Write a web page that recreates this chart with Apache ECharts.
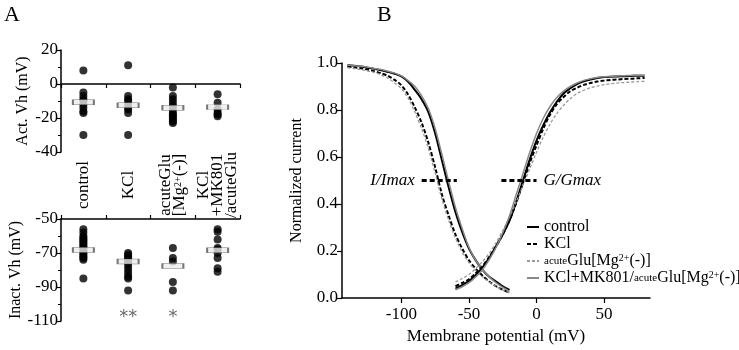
<!DOCTYPE html>
<html>
<head>
<meta charset="utf-8">
<script src="https://cdn.jsdelivr.net/npm/echarts@6/dist/echarts.min.js"></script>
<style>
  html, body { margin: 0; padding: 0; background: #fff; }
  #chart { width: 739px; height: 350px; }
</style>
</head>
<body>
<div id="chart"></div>
<script>
// panel A categories
const groups = ['control', 'KCl', 'acuteGlu\n[Mg2+(-)]', 'KCl\n+MK801\n/acuteGlu'];

// panel A, activation Vh (mV), one array per group
const actControl = [8, -5, -7, -9, -10, -12, -14, -16, -17, -30];
const actKCl = [11, -7, -9, -10, -12, -14, -15, -17, -30];
const actAcuteGlu = [-2, -7, -9, -11, -13, -15, -17, -18, -19, -20, -21, -22, -23];
const actKClMK = [-6, -11, -15, -17, -18, -19];
const actMeans = [-10.7, -12.5, -14, -13.6];

// panel A, inactivation Vh (mV)
const inaControl = [-56, -58, -60, -61, -62, -63, -64, -65, -66, -67, -68, -69, -70, -71, -72, -73, -74, -85];
const inaKCl = [-70, -71, -72, -73, -74, -75, -76, -78, -80, -82, -84, -85, -92];
const inaAcuteGlu = [-67, -73, -75, -87, -92];
const inaKClMK = [-56, -57.5, -62, -67, -68, -70, -73, -79, -81];
const inaMeans = [-68.2, -75, -77.6, -68.4];
const stars = ['', '**', '*', ''];

// panel B, fitted curves (5 mV steps)
const inaV = [-140, -135, -130, -125, -120, -115, -110, -105, -100, -95, -90, -85, -80,
  -75, -70, -65, -60, -55, -50, -45, -40, -35, -30, -25, -20];
const inaCtl = [0.99, 0.988, 0.985, 0.98, 0.975, 0.969, 0.962, 0.954, 0.943, 0.92, 0.885, 0.845, 0.79,
  0.70, 0.585, 0.47, 0.365, 0.28, 0.21, 0.16, 0.12, 0.09, 0.07, 0.05, 0.035];
const inaK = [0.985, 0.982, 0.978, 0.972, 0.965, 0.956, 0.945, 0.928, 0.905, 0.865, 0.81, 0.745, 0.66,
  0.555, 0.44, 0.35, 0.27, 0.21, 0.16, 0.125, 0.095, 0.07, 0.05, 0.035, 0.022];
const inaGlu = [0.98, 0.976, 0.972, 0.966, 0.96, 0.949, 0.935, 0.915, 0.89, 0.85, 0.79, 0.72, 0.635,
  0.53, 0.42, 0.33, 0.255, 0.195, 0.15, 0.117, 0.09, 0.068, 0.05, 0.034, 0.022];
const inaMK = [0.99, 0.988, 0.986, 0.982, 0.977, 0.972, 0.965, 0.957, 0.945, 0.925, 0.9, 0.86, 0.805,
  0.72, 0.61, 0.495, 0.385, 0.295, 0.215, 0.16, 0.12, 0.09, 0.065, 0.045, 0.028];

const actV = [-60, -55, -50, -45, -40, -35, -30, -25, -20, -15, -10, -5, 0, 5, 10,
  15, 20, 25, 30, 35, 40, 45, 50, 55, 60, 65, 70, 75, 80];
const actCtl = [0.04, 0.055, 0.072, 0.098, 0.13, 0.17, 0.22, 0.27, 0.33, 0.41, 0.5, 0.59, 0.67, 0.735, 0.79,
  0.835, 0.87, 0.893, 0.91, 0.922, 0.93, 0.936, 0.94, 0.942, 0.943, 0.944, 0.945, 0.946, 0.946];
const actK = [0.05, 0.064, 0.08, 0.105, 0.135, 0.175, 0.22, 0.27, 0.33, 0.405, 0.49, 0.575, 0.65, 0.72, 0.78,
  0.825, 0.855, 0.88, 0.895, 0.907, 0.915, 0.921, 0.925, 0.928, 0.93, 0.932, 0.933, 0.935, 0.936];
const actGlu = [0.068, 0.083, 0.1, 0.125, 0.155, 0.19, 0.235, 0.287, 0.345, 0.41, 0.48, 0.55, 0.62, 0.685, 0.74,
  0.785, 0.82, 0.848, 0.87, 0.884, 0.895, 0.902, 0.908, 0.912, 0.915, 0.917, 0.919, 0.921, 0.922];
const actMK = [0.035, 0.048, 0.065, 0.09, 0.12, 0.163, 0.215, 0.278, 0.35, 0.44, 0.53, 0.62, 0.7, 0.765, 0.815,
  0.853, 0.88, 0.9, 0.915, 0.926, 0.933, 0.938, 0.941, 0.943, 0.945, 0.946, 0.947, 0.948, 0.948];

const halfLevel = 0.5;
const iMarkV = [-85, -59];
const gMarkV = [-26, 0];
const xTicks = [-100, -50, 0, 50];

const names = ['control', 'KCl', 'acuteGlu[Mg2+(-)]', 'KCl+MK801/acuteGlu[Mg2+(-)]'];

const serif = '"Liberation Serif", "Times New Roman", serif';
const chart = echarts.init(document.getElementById('chart'));

const pts = (i, arr) => arr.map(v => [i, v]);
const zip = (xs, ys) => xs.map((x, i) => [x, ys[i]]);
const supRich = {
  sup: { fontFamily: serif, fontSize: 10, verticalAlign: 'top', padding: [0, 0, 6, 0], color: '#000' },
  s: { fontFamily: serif, fontSize: 11, color: '#000' }
};
// rich wrapper so the serif face sticks on axis labels and names
const tRich = size => ({ t: { fontFamily: serif, fontSize: size, color: '#000' } });
const wrap = v => '{t|' + v + '}';

const dotStyle = (xi, yi, arr, i) => ({
  type: 'scatter', xAxisIndex: xi, yAxisIndex: yi, data: pts(i, arr),
  symbol: 'circle', symbolSize: 8, itemStyle: { color: '#000' }, z: 2
});
const meanStyle = (xi, yi, arr) => ({
  type: 'scatter', xAxisIndex: xi, yAxisIndex: yi, data: arr.map((v, i) => [i, v]),
  symbol: 'rect', symbolSize: [21, 5],
  itemStyle: { color: '#ececec', borderColor: '#555', borderWidth: 1 }, z: 5
});

const catAxis = (grid, pos, showLabel) => ({
  type: 'category', gridIndex: grid, position: pos, data: groups,
  axisLine: { lineStyle: { color: '#000', width: 1.5 } },
  axisTick: { show: true, length: 4, lineStyle: { color: '#000', width: 1.2 } },
  axisLabel: {
    show: showLabel, rotate: 90, align: 'center', verticalAlign: 'middle', margin: 33,
    fontFamily: serif, fontSize: 17, color: '#000', lineHeight: 14,
    formatter: v => v.replace('2+', '{sup|2+}'), rich: supRich
  }
});
const valAxisA = (grid, min, max, name) => ({
  type: 'value', gridIndex: grid, min: min, max: max, interval: 20,
  name: wrap(name), nameLocation: 'middle', nameGap: 30, nameRotate: 90,
  nameTextStyle: { fontFamily: serif, fontSize: 16, color: '#000', rich: tRich(16) },
  axisLine: { show: true, onZero: false, lineStyle: { color: '#000', width: 1.5 } },
  axisTick: { show: true, length: 5, lineStyle: { color: '#000', width: 1.2 } },
  minorTick: { show: true, splitNumber: 2, length: 3, lineStyle: { color: '#000', width: 1 } },
  splitLine: { show: false },
  axisLabel: { fontFamily: serif, fontSize: 17, color: '#000', margin: 3, formatter: wrap, rich: tRich(17) }
});

const curve = (name, ys, xs, color, width, dash) => ({
  type: 'line', name: name, xAxisIndex: 2, yAxisIndex: 2,
  data: zip(xs, ys), symbol: 'none', smooth: 0.3,
  lineStyle: { color: color, width: width, type: dash }, itemStyle: { color: color }, z: 3
});

const option = {
  animation: false,
  backgroundColor: '#fff',
  textStyle: { fontFamily: serif },
  grid: [
    { left: 61, top: 50, width: 179, height: 102 },
    { left: 61, top: 219, width: 179, height: 102 },
    { left: 342, top: 63, width: 308, height: 236 }
  ],
  xAxis: [
    catAxis(0, 'bottom', true),
    catAxis(1, 'top', false),
    {
      type: 'value', gridIndex: 2, min: -144, max: 84,
      name: wrap('Membrane potential (mV)'), nameLocation: 'middle', nameGap: 30,
      nameTextStyle: { fontFamily: serif, fontSize: 17, color: '#000', rich: tRich(17) },
      axisLine: { onZero: false, lineStyle: { color: '#000', width: 1.5 } },
      axisTick: { show: true, length: 5, customValues: xTicks, lineStyle: { color: '#000', width: 1.2 } },
      axisLabel: { customValues: xTicks, fontFamily: serif, fontSize: 17, color: '#000', margin: 8,
        formatter: wrap, rich: tRich(17) },
      splitLine: { show: false }
    }
  ],
  yAxis: [
    valAxisA(0, -40, 20, 'Act. Vh (mV)'),
    valAxisA(1, -110, -50, 'Inact. Vh (mV)'),
    {
      type: 'value', gridIndex: 2, min: 0, max: 1, interval: 0.2,
      name: wrap('Normalized current'), nameLocation: 'middle', nameGap: 37,
      nameTextStyle: { fontFamily: serif, fontSize: 16, color: '#000', rich: tRich(16) },
      axisLine: { show: true, onZero: false, lineStyle: { color: '#000', width: 1.5 } },
      axisTick: { show: true, length: 5, lineStyle: { color: '#000', width: 1.2 } },
      splitLine: { show: false },
      axisLabel: { fontFamily: serif, fontSize: 17, color: '#000', margin: 4,
        formatter: v => wrap(v.toFixed(1)), rich: tRich(17) }
    }
  ],
  legend: {
    data: names, orient: 'vertical', left: 521, top: 214,
    itemWidth: 12, itemHeight: 10, itemGap: 1,
    itemStyle: { opacity: 0 },
    textStyle: { fontFamily: serif, fontSize: 16, color: '#000', lineHeight: 16, rich: supRich },
    formatter: n => n.replace(/acute/g, '{s|acute}').replace('2+', '{sup|2+}')
  },
  graphic: [
    { type: 'text', left: 4, top: 4, style: { text: 'A', fontFamily: serif, fontSize: 22, fill: '#000' } },
    { type: 'text', left: 377, top: 4, style: { text: 'B', fontFamily: serif, fontSize: 22, fill: '#000' } }
  ],
  series: [
    dotStyle(0, 0, actControl, 0),
    dotStyle(0, 0, actKCl, 1),
    dotStyle(0, 0, actAcuteGlu, 2),
    dotStyle(0, 0, actKClMK, 3),
    meanStyle(0, 0, actMeans),
    dotStyle(1, 1, inaControl, 0),
    dotStyle(1, 1, inaKCl, 1),
    dotStyle(1, 1, inaAcuteGlu, 2),
    dotStyle(1, 1, inaKClMK, 3),
    meanStyle(1, 1, inaMeans),
    {
      type: 'scatter', xAxisIndex: 1, yAxisIndex: 1, symbolSize: 0,
      data: stars.map((s, i) => ({ value: [i, -108], label: { formatter: s } })).filter(d => d.label.formatter),
      label: { show: true, position: 'inside', fontFamily: 'DejaVu Sans', fontSize: 18, color: '#444' }
    },
    curve('control', inaCtl, inaV, '#000', 2, 'solid'),
    curve('KCl', inaK, inaV, '#000', 2, [4, 2]),
    curve('acuteGlu[Mg2+(-)]', inaGlu, inaV, '#999', 1.3, [3, 2]),
    curve('KCl+MK801/acuteGlu[Mg2+(-)]', inaMK, inaV, '#888', 1.5, 'solid'),
    curve('control', actCtl, actV, '#000', 2, 'solid'),
    curve('KCl', actK, actV, '#000', 2, [4, 2]),
    curve('acuteGlu[Mg2+(-)]', actGlu, actV, '#999', 1.3, [3, 2]),
    curve('KCl+MK801/acuteGlu[Mg2+(-)]', actMK, actV, '#888', 1.5, 'solid'),
    {
      type: 'line', xAxisIndex: 2, yAxisIndex: 2, symbol: 'circle', symbolSize: 0, showSymbol: true, z: 6,
      data: [
        { value: [iMarkV[0], halfLevel], label: { show: true, position: 'left', distance: 7, formatter: 'I/Imax' } },
        [iMarkV[1], halfLevel]
      ],
      lineStyle: { color: '#000', width: 3, type: [5, 3] },
      label: { fontFamily: serif, fontStyle: 'italic', fontSize: 17, color: '#000' }
    },
    {
      type: 'line', xAxisIndex: 2, yAxisIndex: 2, symbol: 'circle', symbolSize: 0, showSymbol: true, z: 6,
      data: [
        [gMarkV[0], halfLevel],
        { value: [gMarkV[1], halfLevel], label: { show: true, position: 'right', distance: 7, formatter: 'G/Gmax' } }
      ],
      lineStyle: { color: '#000', width: 3, type: [5, 3] },
      label: { fontFamily: serif, fontStyle: 'italic', fontSize: 17, color: '#000' }
    }
  ]
};

chart.setOption(option);
</script>
</body>
</html>
